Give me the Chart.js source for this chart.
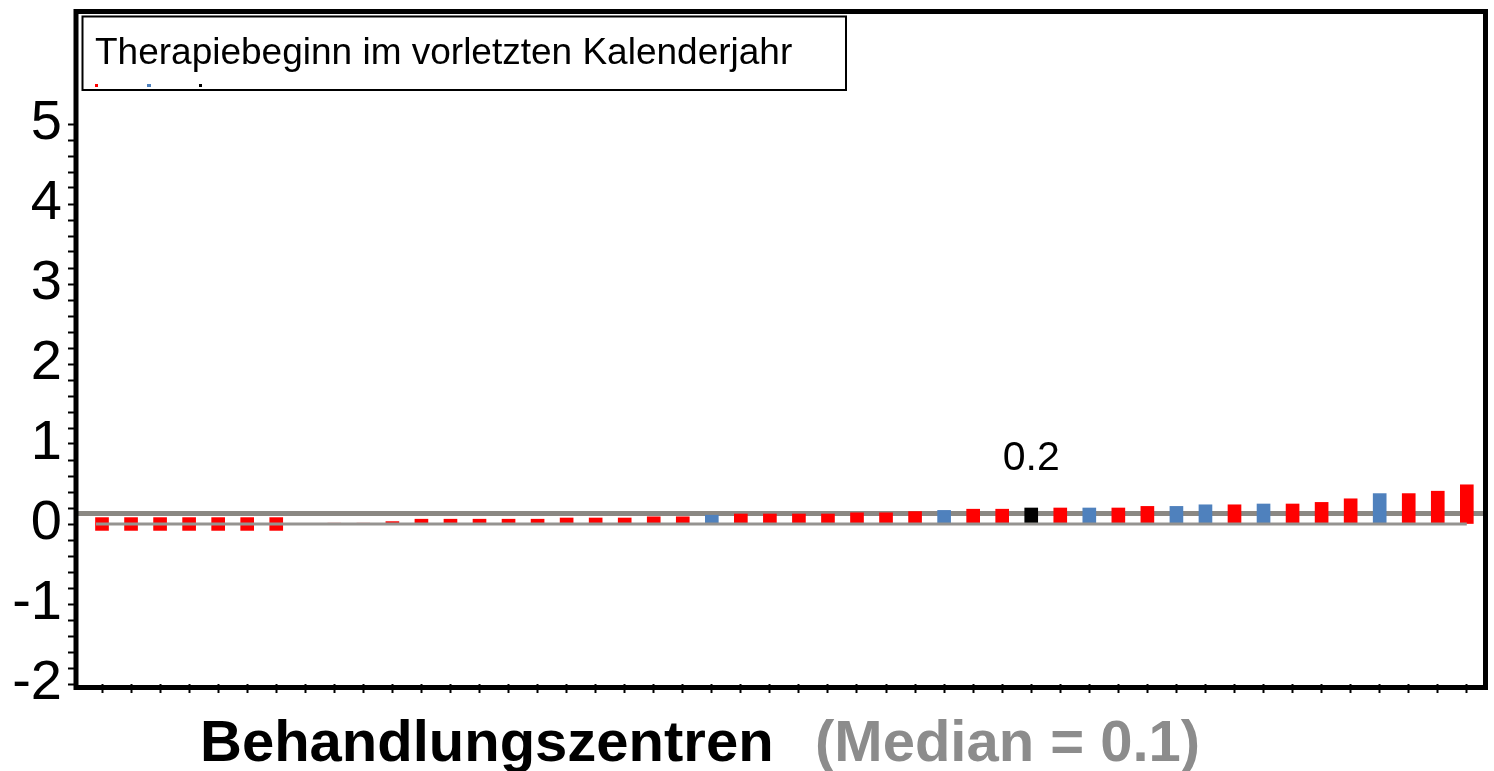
<!DOCTYPE html>
<html>
<head>
    <meta charset="UTF-8">
    <title>Behandlungszentren</title>
    <script src="https://cdn.jsdelivr.net/npm/chart.js@4.4.1/dist/chart.umd.min.js"></script>
    <style>
        html, body { margin: 0; padding: 0; background: #fff; }
        #chartBox { width: 1494px; height: 771px; }
    </style>
</head>
<body>
<div id="chartBox"><canvas id="myChart" width="1494" height="771"></canvas></div>
<script>
// one bar per centre, sorted by value
var centres = [1, 2, 3, 4, 5, 6, 7, 8, 9, 10, 11, 12, 13, 14, 15, 16, 17, 18, 19, 20, 21, 22, 23, 24,
               25, 26, 27, 28, 29, 30, 31, 32, 33, 34, 35, 36, 37, 38, 39, 40, 41, 42, 43, 44, 45, 46, 47, 48];
var barLow  = [-0.08, -0.08, -0.08, -0.08, -0.08, -0.08, -0.08, 0, 0, 0, 0, 0, 0, 0, 0, 0, 0, 0, 0, 0, 0, 0, 0, 0,
               0, 0, 0, 0, 0, 0, 0, 0, 0, 0, 0, 0, 0, 0, 0, 0, 0, 0, 0, 0, 0, 0, 0, 0];
var barHigh = [0.08, 0.08, 0.08, 0.08, 0.08, 0.08, 0.08, 0.005, 0.01, 0.01, 0.03, 0.06, 0.06, 0.06, 0.06, 0.06,
               0.075, 0.075, 0.075, 0.09, 0.09, 0.11, 0.125, 0.125, 0.125, 0.125, 0.14, 0.14, 0.155, 0.17,
               0.185, 0.185, 0.2, 0.2, 0.2, 0.2, 0.22, 0.22, 0.24, 0.24, 0.25, 0.25, 0.27, 0.315, 0.38, 0.38,
               0.41, 0.49];
// r = other centre, b = highlighted group, k = own centre
var barGroup = ['r', 'r', 'r', 'r', 'r', 'r', 'r', 'r', 'r', 'r', 'r', 'r', 'r', 'r', 'r', 'r', 'r', 'r', 'r', 'r', 'r', 'b', 'r', 'r',
                'r', 'r', 'r', 'r', 'r', 'b', 'r', 'r', 'k', 'r', 'b', 'r', 'r', 'b', 'b', 'r', 'b', 'r', 'r', 'r', 'b', 'r', 'r', 'r'];
var yTickLabels = [-2, -1, 0, 1, 2, 3, 4, 5];
var medianValue = 0.13;
var markedIndex = 32;
var markedLabel = '0.2';
var legendText = 'Therapiebeginn im vorletzten Kalenderjahr';
var xTitle = 'Behandlungszentren';
var medianText = '(Median = 0.1)';

var groupColors = { r: '#ff0000', b: '#4f81bd', k: '#000000' };
var fontFamily = '"Liberation Sans", Arial, sans-serif';

var points = centres.map(function (c, i) { return { x: c, y: [barLow[i], barHigh[i]] }; });

// gray median line, behind the bars
var medianLine = {
    id: 'medianLine',
    beforeDatasetsDraw: function (chart) {
        var ca = chart.chartArea, y = chart.scales.y.getPixelForValue(medianValue);
        var ctx = chart.ctx;
        ctx.save();
        ctx.strokeStyle = '#8b8883';
        ctx.lineWidth = 5;
        ctx.beginPath();
        ctx.moveTo(ca.left, y);
        ctx.lineTo(ca.right, y);
        ctx.stroke();
        ctx.restore();
    }
};

// zero line over the bars
var zeroLine = {
    id: 'zeroLine',
    afterDatasetsDraw: function (chart) {
        var xs = chart.scales.x, y = chart.scales.y.getPixelForValue(0);
        var ctx = chart.ctx;
        ctx.save();
        ctx.strokeStyle = '#959390';
        ctx.lineWidth = 3;
        ctx.beginPath();
        ctx.moveTo(xs.getPixelForValue(centres[0]) - 6, y);
        ctx.lineTo(xs.getPixelForValue(centres[centres.length - 1]), y);
        ctx.stroke();
        ctx.restore();
    }
};

// frame, legend box, value label and axis title
var decorations = {
    id: 'decorations',
    afterDraw: function (chart) {
        var ca = chart.chartArea, ctx = chart.ctx;
        ctx.save();
        ctx.strokeStyle = '#000';
        ctx.lineWidth = 5;
        ctx.strokeRect(ca.left + 1, ca.top - 0.5, ca.right - ca.left - 3.5, ca.bottom - ca.top + 4);

        // legend box
        ctx.fillStyle = '#fff';
        ctx.fillRect(ca.left + 7.5, ca.top + 4.5, 763.5, 73.5);
        ctx.lineWidth = 2;
        ctx.strokeRect(ca.left + 7.5, ca.top + 4.5, 763.5, 73.5);
        ctx.fillStyle = '#000';
        ctx.font = '37px ' + fontFamily;
        ctx.textAlign = 'left';
        ctx.textBaseline = 'alphabetic';
        ctx.fillText(legendText, ca.left + 20, 64);
        ctx.fillStyle = groupColors.r; ctx.fillRect(ca.left + 20, 84, 3, 3);
        ctx.fillStyle = groupColors.b; ctx.fillRect(ca.left + 72, 84, 4, 3);
        ctx.fillStyle = groupColors.k; ctx.fillRect(ca.left + 124, 84, 3, 3);

        // value above the own centre's bar
        var xs = chart.scales.x, ys = chart.scales.y;
        ctx.fillStyle = '#000';
        ctx.font = '41px ' + fontFamily;
        ctx.textAlign = 'center';
        ctx.fillText(markedLabel, xs.getPixelForValue(centres[markedIndex]), ys.getPixelForValue(barHigh[markedIndex]) - 38);

        // x axis title in two colours
        ctx.font = 'bold 58px ' + fontFamily;
        ctx.textAlign = 'left';
        ctx.fillText(xTitle, 200, 761);
        ctx.fillStyle = '#8c8c8c';
        ctx.fillText(medianText, 815, 761);
        ctx.restore();
    }
};

new Chart(document.getElementById('myChart'), {
    type: 'bar',
    data: {
        datasets: [{
            data: points,
            backgroundColor: barGroup.map(function (g) { return groupColors[g]; }),
            borderWidth: 0,
            barThickness: 13
        }]
    },
    options: {
        responsive: false,
        animation: false,
        layout: { padding: { top: 12, right: 6, left: 0, bottom: 0 } },
        plugins: { legend: { display: false }, tooltip: { enabled: false } },
        scales: {
            x: {
                type: 'linear',
                offset: false,
                min: 0.07,
                max: 48.73,
                border: { display: false },
                grid: { offset: false, drawOnChartArea: false, drawTicks: true, tickLength: 9, tickWidth: 2, tickColor: '#000' },
                ticks: { display: false, autoSkip: false },
                afterBuildTicks: function (s) {
                    s.ticks = centres.map(function (v) { return { value: v }; });
                },
                afterFit: function (s) {
                    s.height = 87;
                    s.paddingLeft = 0;
                    s.paddingRight = 0;
                }
            },
            y: {
                type: 'linear',
                min: -2,
                max: 6.4,
                border: { display: false },
                grid: { drawOnChartArea: false, drawTicks: true, tickLength: 7, tickWidth: 2, tickColor: '#000' },
                ticks: {
                    autoSkip: false,
                    padding: 6,
                    color: '#000',
                    font: { family: fontFamily, size: 56 },
                    callback: function (v) {
                        var r = Math.round(v * 10) / 10;
                        return yTickLabels.indexOf(r) >= 0 ? String(r) : '';
                    }
                },
                afterBuildTicks: function (s) {
                    var t = [];
                    for (var k = yTickLabels[0] * 5; k <= yTickLabels[yTickLabels.length - 1] * 5; k++) {
                        t.push({ value: k / 5 });
                    }
                    s.ticks = t;
                },
                afterFit: function (s) {
                    s.width = 75;
                    s.paddingTop = 0;
                    s.paddingBottom = 0;
                }
            }
        }
    },
    plugins: [medianLine, zeroLine, decorations]
});
</script>
</body>
</html>
